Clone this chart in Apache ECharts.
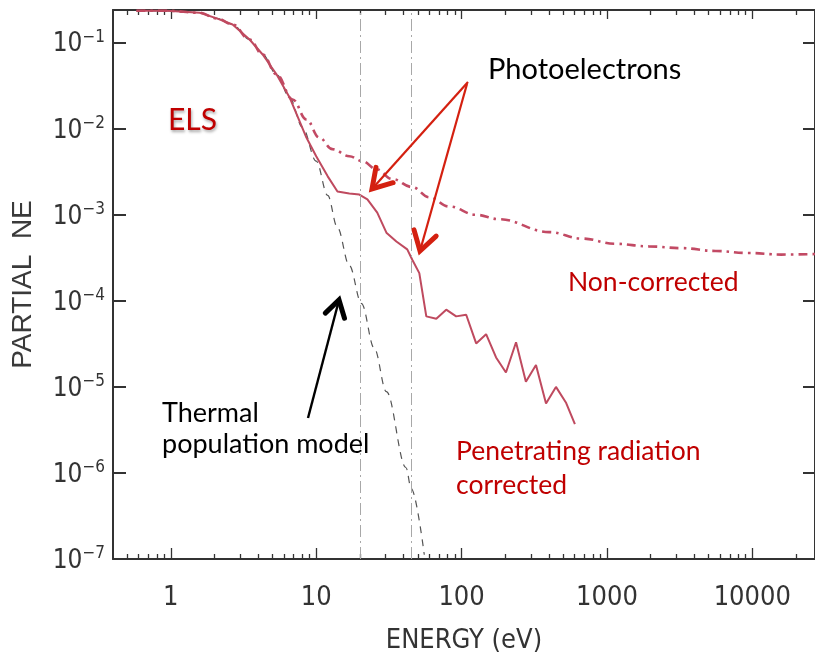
<!DOCTYPE html>
<html>
<head>
<meta charset="utf-8">
<script src="https://cdn.jsdelivr.net/npm/echarts@6/dist/echarts.min.js"></script>
<style>
  html, body { margin: 0; padding: 0; background: #ffffff; }
  #chart { width: 815px; height: 660px; }
</style>
</head>
<body>
<div id="chart"></div>
<script>
// ELS partial electron density versus energy.
// Penetrating-radiation corrected spectrum (solid).
const energyCorrected = [0.58, 0.94, 1.58, 2.07, 2.66, 3.48, 4.28, 5.33, 6.56, 7.69, 8.56, 10.0, 12.0, 14.0,
  16.9, 19.8, 22.5, 26.3, 30.4, 35.6, 42.3, 45.8, 51.2, 57.2, 67, 78.4, 91.8, 107.6, 126, 147.5,
  172.7, 202, 237, 277, 325, 381, 446, 522, 602];
const neCorrected = [0.235, 0.235, 0.223, 0.192, 0.163, 0.109, 0.073, 0.043, 0.0231, 0.0122, 0.0079, 0.0048, 0.0028, 0.00187,
  0.00177, 0.00172, 0.00151, 0.00106, 0.00062, 0.00049, 0.000396, 0.00030, 0.00021, 6.6e-5, 6.2e-5, 7.9e-5, 6.6e-5, 6.9e-5, 3.2e-5, 4.1e-5,
  2.2e-5, 1.47e-5, 3.3e-5, 1.15e-5, 1.8e-5, 6.4e-6, 1.0e-5, 6.6e-6, 3.7e-6];

// Uncorrected spectrum (dash-dot).
const energyRaw = [0.58, 0.94, 1.58, 2.07, 2.66, 3.48, 4.28, 5.33, 6.88, 8.57, 10.5, 12.9, 16.9, 20.8, 25.9,
  33.4, 45.8, 60, 82, 126, 181, 400, 670, 1150, 1940, 3250, 5600, 9350, 15800, 27000];
const neRaw = [0.235, 0.235, 0.223, 0.192, 0.163, 0.109, 0.073, 0.043, 0.0219, 0.0128, 0.0079, 0.0058, 0.0048, 0.0042, 0.0034,
  0.0026, 0.0021, 0.0016, 0.00125, 0.0010, 0.00089, 0.00063, 0.00053, 0.00046, 0.00043, 0.00041, 0.00038, 0.00036, 0.000345, 0.00035];

// Thermal population model (dashed).
const energyModel = [0.58, 0.94, 1.58, 2.07, 2.66, 3.48, 4.28, 5.33, 6.56, 8.05, 10.0, 12.0, 14.0, 16.9, 20.5,
  25.1, 30.4, 41.5, 45, 55.4];
const neModel = [0.235, 0.235, 0.223, 0.192, 0.163, 0.109, 0.073, 0.043, 0.0231, 0.0104, 0.0042, 0.00168, 0.00071, 0.000257, 9.3e-5,
  2.8e-5, 8.8e-6, 1.15e-6, 6.6e-7, 1.12e-7];

// Photoelectron energy markers (eV).
const photoelectronEdges = [20, 45];

// Axis ranges and tick labels.
const energyRange = [0.4, 27000];
const densityRange = [1e-7, 0.24];
const energyTicks = [1, 10, 100, 1000, 10000];
const densityTicks = [1e-7, 1e-6, 1e-5, 1e-4, 1e-3, 1e-2, 1e-1];

const energyMinorTicks = [];
[0.1, 1, 10, 100, 1000, 10000].forEach(function (decade) {
  for (let k = 2; k <= 9; k++) {
    const v = decade * k;
    if (v > energyRange[0] && v < energyRange[1]) energyMinorTicks.push(v);
  }
});

const zip = (xs, ys) => xs.map((x, i) => [x, ys[i]]);

const AXIS_COLOR = '#333333';
const TICK_FONT = "'DejaVu Sans Condensed', 'Liberation Sans Narrow', sans-serif";
const NOTE_FONT = "Lato, 'Open Sans', sans-serif";
const DARK_RED = '#c00000';
const ARROW_RED = '#d42010';

function xAxisDef(position, ticks, tickLen, withLine, withLabels) {
  const def = {
    type: 'log',
    position: position,
    min: energyRange[0],
    max: energyRange[1],
    axisLine: { show: withLine, lineStyle: { color: AXIS_COLOR, width: 2 } },
    axisTick: { show: true, inside: true, length: tickLen, customValues: ticks,
      lineStyle: { color: AXIS_COLOR, width: 1.3 } },
    axisLabel: { show: withLabels },
    splitLine: { show: false },
    minorTick: { show: false },
    minorSplitLine: { show: false }
  };
  if (withLabels) {
    def.axisLabel = {
      show: true,
      customValues: ticks,
      margin: 25,
      fontFamily: TICK_FONT,
      fontSize: 27,
      color: AXIS_COLOR,
      formatter: function (v) { return String(Math.round(v)); }
    };
    def.name = 'ENERGY (eV)';
    def.nameLocation = 'middle';
    def.nameGap = 68;
    def.nameTextStyle = { fontFamily: TICK_FONT, fontSize: 27, color: AXIS_COLOR };
  }
  return def;
}

const chart = echarts.init(document.getElementById('chart'), null, { renderer: 'canvas' });

const option = {
  backgroundColor: '#ffffff',
  animation: false,
  grid: { left: 113, top: 10, right: -2, bottom: 101 },
  xAxis: [
    xAxisDef('bottom', energyTicks, 11, true, true),
    xAxisDef('bottom', energyMinorTicks, 5, false, false),
    xAxisDef('top', energyTicks, 9, true, false),
    xAxisDef('top', energyMinorTicks, 5, false, false)
  ],
  yAxis: [
    {
      type: 'log',
      position: 'left',
      min: densityRange[0],
      max: densityRange[1],
      axisLine: { show: true, lineStyle: { color: AXIS_COLOR, width: 2 } },
      axisTick: { show: true, inside: true, length: 13, customValues: densityTicks,
        lineStyle: { color: AXIS_COLOR, width: 2 } },
      axisLabel: {
        customValues: densityTicks,
        margin: 8,
        formatter: function (v) {
          return '{b|10}{s|\u2212' + Math.round(-Math.log10(v)) + '}';
        },
        rich: {
          b: { fontFamily: TICK_FONT, fontSize: 26, color: AXIS_COLOR, lineHeight: 28, padding: [4, 0, 0, 0] },
          s: { fontFamily: TICK_FONT, fontSize: 17, color: AXIS_COLOR, verticalAlign: 'top', lineHeight: 17 }
        }
      },
      splitLine: { show: false },
      name: 'PARTIAL  NE',
      nameLocation: 'middle',
      nameGap: 76,
      nameTextStyle: { fontFamily: "'Liberation Sans', Arial, sans-serif", fontSize: 28, color: '#3a3a3a' }
    },
    {
      type: 'log',
      position: 'right',
      min: densityRange[0],
      max: densityRange[1],
      axisLine: { show: true, lineStyle: { color: AXIS_COLOR, width: 2 } },
      axisTick: { show: true, inside: true, length: 12, customValues: densityTicks,
        lineStyle: { color: AXIS_COLOR, width: 2 } },
      axisLabel: { show: false },
      splitLine: { show: false }
    }
  ],
  series: [
    {
      name: 'Thermal population model',
      type: 'line',
      xAxisIndex: 0,
      yAxisIndex: 0,
      data: zip(energyModel, neModel),
      showSymbol: false,
      smooth: 0.35,
      smoothMonotone: 'x',
      lineStyle: { color: '#555555', width: 1.2, type: [7, 6] },
      markLine: {
        silent: true,
        symbol: ['none', 'none'],
        label: { show: false },
        lineStyle: { color: '#a8a8a8', width: 1, type: [12, 4, 2, 4] },
        data: photoelectronEdges.map(function (e) { return { xAxis: e }; })
      },
      z: 2
    },
    {
      name: 'Non-corrected',
      type: 'line',
      xAxisIndex: 0,
      yAxisIndex: 0,
      data: zip(energyRaw, neRaw),
      showSymbol: false,
      smooth: 0.4,
      smoothMonotone: 'x',
      lineStyle: { color: '#c24a64', width: 2.6, type: [9, 5, 2.5, 5] },
      z: 3
    },
    {
      name: 'Penetrating radiation corrected',
      type: 'line',
      xAxisIndex: 0,
      yAxisIndex: 0,
      data: zip(energyCorrected, neCorrected),
      showSymbol: false,
      lineStyle: { color: '#bf4a5f', width: 2 },
      z: 4
    }
  ]
};

chart.setOption(option);

// Annotation arrows: a straight shaft with an open V-shaped head.
function arrow(tail, tip, color, shaftWidth, headWidth, headLen) {
  const dx = tip[0] - tail[0], dy = tip[1] - tail[1];
  const len = Math.sqrt(dx * dx + dy * dy);
  const ux = dx / len, uy = dy / len;
  const spread = 0.55;
  const cos = Math.cos(spread), sin = Math.sin(spread);
  const back = [-ux, -uy];
  const a = [tip[0] + headLen * (back[0] * cos - back[1] * sin), tip[1] + headLen * (back[0] * sin + back[1] * cos)];
  const b = [tip[0] + headLen * (back[0] * cos + back[1] * sin), tip[1] + headLen * (-back[0] * sin + back[1] * cos)];
  return [
    { type: 'line', shape: { x1: tail[0], y1: tail[1], x2: tip[0] - ux * 2, y2: tip[1] - uy * 2 },
      style: { stroke: color, lineWidth: shaftWidth }, z: 10 },
    { type: 'polyline', shape: { points: [a, tip, b] },
      style: { stroke: color, lineWidth: headWidth, fill: null, lineJoin: 'miter', lineCap: 'round' }, z: 10 }
  ];
}

function note(x, y, text, color, size) {
  return { type: 'text', z: 11,
    style: { x: x, y: y, text: text, fill: color, font: size + 'px ' + NOTE_FONT,
      textAlign: 'left', textVerticalAlign: 'middle' } };
}

const graphics = []
  .concat(arrow([468, 82], [372, 189], ARROW_RED, 2.2, 5, 22))
  .concat(arrow([467, 84], [420, 251], ARROW_RED, 2.2, 5, 22))
  .concat(arrow([308, 418], [339, 300], '#000000', 2.4, 5, 19))
  .concat([
    note(488, 70, 'Photoelectrons', '#000000', 29),
    { type: 'text', z: 11,
      style: { x: 168, y: 120, text: 'ELS', fill: DARK_RED, font: '30px ' + NOTE_FONT,
        textAlign: 'left', textVerticalAlign: 'middle',
        textShadowColor: 'rgba(0,0,0,0.35)', textShadowBlur: 3, textShadowOffsetX: 1, textShadowOffsetY: 2 } },
    note(568, 282, 'Non-corrected', DARK_RED, 26.5),
    note(162, 413, 'Thermal', '#000000', 27),
    note(162, 444, 'population model', '#000000', 27),
    note(456, 451, 'Penetrating radiation', DARK_RED, 26.5),
    note(456, 485, 'corrected', DARK_RED, 26.5)
  ]);

chart.setOption({ graphic: graphics });
</script>
</body>
</html>
